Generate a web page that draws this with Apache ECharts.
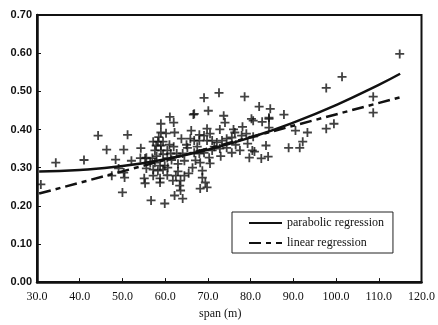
<!DOCTYPE html>
<html>
<head>
<meta charset="utf-8">
<script src="https://cdn.jsdelivr.net/npm/echarts@6/dist/echarts.min.js"></script>
<style>
  html, body { margin: 0; padding: 0; background: #fff; }
  #chart { width: 438px; height: 325px; }
</style>
</head>
<body>
<div id="chart"></div>
<script>
const points = [
  [30.9, 0.256], [34.4, 0.313], [41.0, 0.320], [44.3, 0.384], [46.3, 0.347],
  [47.5, 0.279], [48.4, 0.321], [49.1, 0.298], [50.0, 0.235], [50.3, 0.347],
  [50.3, 0.287], [50.5, 0.274], [51.2, 0.386], [52.1, 0.318], [54.3, 0.351],
  [54.2, 0.325], [55.3, 0.324], [55.1, 0.272], [55.3, 0.259], [55.6, 0.326],
  [56.5, 0.313], [57.6, 0.313], [56.7, 0.214], [57.2, 0.368], [58.3, 0.368],
  [59.5, 0.368], [57.6, 0.345], [59.0, 0.345], [57.9, 0.358], [59.0, 0.358],
  [59.0, 0.415], [59.0, 0.392], [57.2, 0.295], [58.3, 0.292], [59.5, 0.295],
  [58.8, 0.305], [59.9, 0.305], [57.2, 0.279], [58.8, 0.272], [58.8, 0.261],
  [59.9, 0.206], [55.6, 0.298], [60.6, 0.300], [61.1, 0.433], [62.0, 0.418],
  [66.6, 0.439], [62.2, 0.392], [66.1, 0.397], [63.8, 0.376], [65.9, 0.376],
  [61.3, 0.337], [62.7, 0.337], [64.1, 0.337], [65.2, 0.352], [66.4, 0.300],
  [64.5, 0.318], [62.5, 0.279], [64.5, 0.279], [61.8, 0.266], [63.6, 0.266],
  [63.4, 0.253], [63.6, 0.240], [62.2, 0.227], [64.1, 0.219], [66.8, 0.441],
  [60.5, 0.345], [61.5, 0.320], [63.0, 0.310], [62.0, 0.355], [69.1, 0.483],
  [72.6, 0.496], [70.1, 0.449], [73.7, 0.436], [74.0, 0.418], [69.8, 0.402],
  [68.0, 0.386], [69.1, 0.384], [70.5, 0.389], [72.8, 0.400], [66.8, 0.371],
  [68.0, 0.371], [69.8, 0.371], [71.0, 0.371], [72.1, 0.366], [73.3, 0.371],
  [74.4, 0.376], [75.6, 0.379], [66.8, 0.339], [68.0, 0.337], [69.1, 0.339],
  [70.3, 0.326], [72.8, 0.350], [74.4, 0.352], [75.6, 0.339], [68.2, 0.313],
  [67.1, 0.319], [68.7, 0.292], [68.7, 0.274], [69.4, 0.261], [68.2, 0.245],
  [69.8, 0.248], [70.5, 0.311], [71.5, 0.355], [78.6, 0.486], [82.0, 0.460],
  [84.6, 0.454], [80.2, 0.428], [80.6, 0.423], [82.7, 0.420], [84.3, 0.428],
  [76.0, 0.400], [76.3, 0.392], [78.1, 0.407], [77.9, 0.384], [79.0, 0.389],
  [80.6, 0.381], [79.3, 0.363], [80.4, 0.345], [80.9, 0.342], [79.7, 0.326],
  [82.5, 0.324], [84.1, 0.329], [84.3, 0.405], [84.3, 0.431], [83.6, 0.358],
  [87.8, 0.439], [88.9, 0.352], [90.5, 0.397], [91.5, 0.352], [92.2, 0.368],
  [93.3, 0.392], [97.7, 0.402], [99.5, 0.415], [97.7, 0.509], [101.4, 0.538],
  [108.7, 0.486], [108.7, 0.444], [114.9, 0.598], [58.0, 0.330], [59.5, 0.335],
  [60.5, 0.325], [58.5, 0.380], [60.2, 0.390], [61.0, 0.360], [65.0, 0.360],
  [67.5, 0.355], [71.0, 0.345], [73.0, 0.330], [76.5, 0.360], [77.5, 0.345],
  [63.0, 0.290], [65.5, 0.285], [60.5, 0.280], [57.0, 0.325]
];

// regression curves, read at a few spans
const parabolic = [
  [30.5, 0.290], [40, 0.294], [50, 0.304], [60, 0.322], [70, 0.347],
  [80, 0.379], [90, 0.418], [100, 0.464], [110, 0.517], [115, 0.546]
];
const linear = [[30.5, 0.232], [115.2, 0.485]];

const xTicks = [30, 40, 50, 60, 70, 80, 90, 100, 110, 120];

const plus = "path://M4,0H6V4H10V6H6V10H4V6H0V4H4Z";

const chart = echarts.init(document.getElementById("chart"));
chart.setOption({
  animation: false,
  grid: {
    left: 37, right: 10, top: 15, bottom: 42,
    show: true, borderColor: "#111", borderWidth: 2
  },
  legend: {
    left: 232, top: 212,
    orient: "vertical",
    borderColor: "#222", borderWidth: 1,
    padding: [5, 9, 4, 16],
    itemGap: 8,
    itemWidth: 33, itemHeight: 10,
    itemStyle: { opacity: 0 },
    data: ["parabolic regression", "linear regression"],
    textStyle: { fontFamily: "Liberation Serif", fontSize: 12, color: "#111" }
  },
  xAxis: {
    type: "value",
    min: 30, max: 120, interval: 10,
    name: "span (m)",
    nameLocation: "middle",
    nameGap: 22,
    nameTextStyle: {
      fontFamily: "Liberation Serif", fontSize: 12, color: "#111",
      padding: [0, 18, 0, 0]
    },
    axisLine: { lineStyle: { color: "#111", width: 2.5 } },
    axisTick: { inside: true, length: 4, lineStyle: { color: "#111" } },
    splitLine: { show: false },
    axisLabel: {
      margin: 9,
      fontFamily: "Liberation Serif", fontSize: 12, color: "#111",
      formatter: (v) => xTicks.includes(v) ? v.toFixed(1) : ""
    }
  },
  yAxis: {
    type: "value",
    min: 0, max: 0.7, interval: 0.1,
    axisLine: { show: true, lineStyle: { color: "#111", width: 2.5 } },
    axisTick: { show: true, inside: true, length: 4, lineStyle: { color: "#111" } },
    splitLine: { show: false },
    axisLabel: {
      margin: 5,
      fontFamily: "Liberation Sans", fontWeight: "bold", fontSize: 11, color: "#111",
      formatter: (v) => v.toFixed(2)
    }
  },
  series: [
    {
      name: "data",
      type: "scatter",
      data: points,
      symbol: plus,
      symbolSize: 9,
      itemStyle: { color: "#111" },
      z: 3
    },
    {
      name: "parabolic regression",
      type: "line",
      data: parabolic,
      smooth: true,
      symbol: "none",
      itemStyle: { color: "#111" },
      lineStyle: { color: "#111", width: 2.5 },
      z: 4
    },
    {
      name: "linear regression",
      type: "line",
      data: linear,
      symbol: "none",
      itemStyle: { color: "#111" },
      lineStyle: { color: "#111", width: 2.5, type: [12, 5, 5, 5] },
      z: 4
    }
  ]
});
</script>
</body>
</html>
